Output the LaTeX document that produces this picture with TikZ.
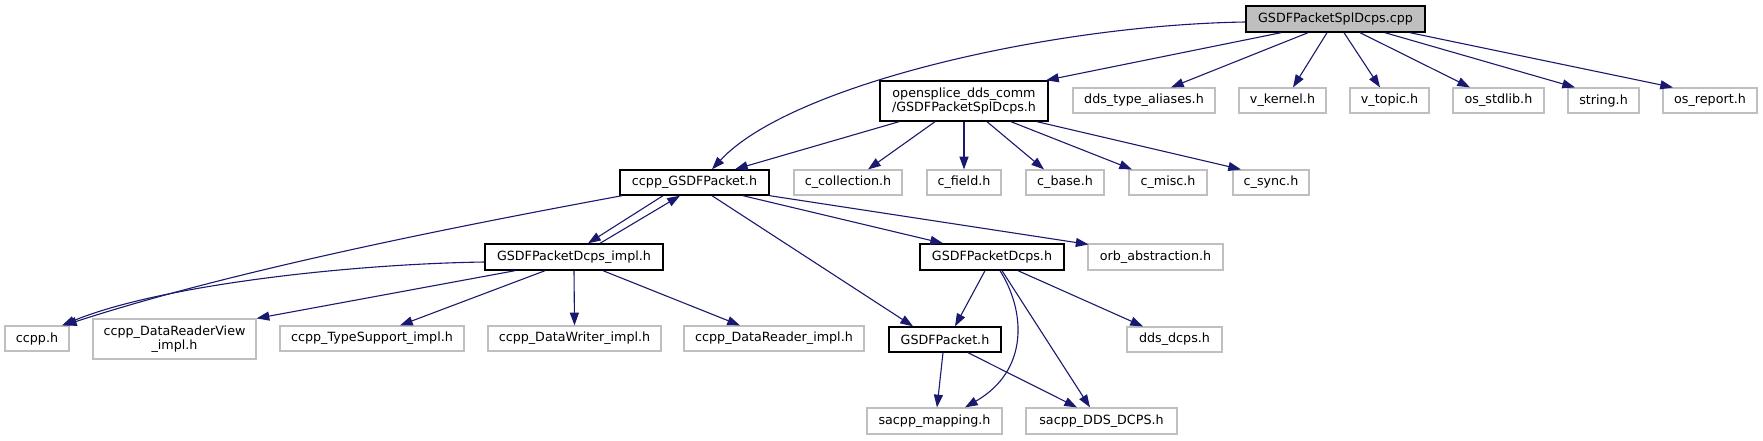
\documentclass[tikz,border=0pt]{standalone}
\usepackage{fontspec}
\setmainfont{DejaVu Sans}
\usetikzlibrary{arrows.meta}
\definecolor{edgec}{HTML}{191970}
\definecolor{grayb}{HTML}{BFBFBF}
\tikzset{
  box/.style={draw, inner sep=0pt, align=center, anchor=center,
    font=\fontsize{12.7}{14.5}\selectfont},
  dbox/.style={box, draw=black, line width=1.4pt},
  gbox/.style={box, draw=grayb, line width=1.2pt},
  edge/.style={draw=edgec, line width=1.1pt, -{Triangle[length=12.7pt,width=9pt]}},
}
\begin{document}
\begin{tikzpicture}[x=1pt,y=-1pt]
\fill[white] (0,0) rectangle (1763,440);
\useasboundingbox (0,0) rectangle (1763,440);
% row 0
\node[dbox, fill=grayb, minimum width=179pt, minimum height=26pt] (cpp) at (1335.5,19) {GSDFPacketSplDcps.cpp};
% row 1
\node[dbox, minimum width=168pt, minimum height=40pt] (ospl) at (964,101) {opensplice\_dds\_comm\\/GSDFPacketSplDcps.h};
\node[gbox, minimum width=142pt, minimum height=25pt] (dta) at (1144,100.5) {dds\_type\_aliases.h};
\node[gbox, minimum width=87pt, minimum height=25pt] (vk) at (1282.5,100.5) {v\_kernel.h};
\node[gbox, minimum width=79pt, minimum height=25pt] (vt) at (1389.5,100.5) {v\_topic.h};
\node[gbox, minimum width=91pt, minimum height=25pt] (osstd) at (1498.5,100.5) {os\_stdlib.h};
\node[gbox, minimum width=71pt, minimum height=25pt] (str) at (1603.5,100.5) {string.h};
\node[gbox, minimum width=94pt, minimum height=25pt] (osrep) at (1710,100.5) {os\_report.h};
% row 2
\node[dbox, minimum width=149pt, minimum height=25pt] (cgp) at (694.5,182.5) {ccpp\_GSDFPacket.h};
\node[gbox, minimum width=108pt, minimum height=25pt] (ccol) at (848,182.5) {c\_collection.h};
\node[gbox, minimum width=74pt, minimum height=25pt] (cfld) at (964,182.5) {c\_field.h};
\node[gbox, minimum width=78pt, minimum height=25pt] (cbase) at (1065,182.5) {c\_base.h};
\node[gbox, minimum width=78pt, minimum height=25pt] (cmisc) at (1168,182.5) {c\_misc.h};
\node[gbox, minimum width=76pt, minimum height=25pt] (csync) at (1271,182.5) {c\_sync.h};
% row 3
\node[dbox, minimum width=178pt, minimum height=26pt] (impl) at (574,257) {GSDFPacketDcps\_impl.h};
\node[dbox, minimum width=144pt, minimum height=26pt] (dcps) at (992,257) {GSDFPacketDcps.h};
\node[gbox, minimum width=135pt, minimum height=26pt] (orb) at (1155.5,257) {orb\_abstraction.h};
% row 4
\node[gbox, minimum width=64pt, minimum height=25pt] (ccpp) at (37,338.5) {ccpp.h};
\node[gbox, minimum width=163pt, minimum height=40pt] (drv) at (174.5,339) {ccpp\_DataReaderView\\\_impl.h};
\node[gbox, minimum width=184pt, minimum height=25pt] (ts) at (372,338.5) {ccpp\_TypeSupport\_impl.h};
\node[gbox, minimum width=173pt, minimum height=25pt] (dw) at (574.5,338.5) {ccpp\_DataWriter\_impl.h};
\node[gbox, minimum width=180pt, minimum height=25pt] (dr) at (774,338.5) {ccpp\_DataReader\_impl.h};
\node[dbox, minimum width=112pt, minimum height=25pt] (gp) at (945,339.5) {GSDFPacket.h};
\node[gbox, minimum width=95pt, minimum height=25pt] (ddsd) at (1174.5,339.5) {dds\_dcps.h};
% row 5
\node[gbox, minimum width=135pt, minimum height=26pt] (sm) at (934.5,421) {sacpp\_mapping.h};
\node[gbox, minimum width=151pt, minimum height=26pt] (sdd) at (1101.5,421) {sacpp\_DDS\_DCPS.h};

% edges from cpp
\draw[edge] ([yshift=-3pt]cpp.west) .. controls (1050,25) and (790,85) .. ([xshift=17.5pt]cgp.north);
\draw[edge] ([xshift=-54.5pt]cpp.south) -- ([xshift=82pt]ospl.north);
\draw[edge] ([xshift=-27.5pt]cpp.south) -- ([xshift=27pt]dta.north);
\draw[edge] ([xshift=-8.5pt]cpp.south) -- ([xshift=10.5pt]vk.north);
\draw[edge] ([xshift=8.5pt]cpp.south) -- ([xshift=-9.5pt]vt.north);
\draw[edge] ([xshift=24.5pt]cpp.south) -- ([xshift=-28.5pt]osstd.north);
\draw[edge] ([xshift=49.5pt]cpp.south) -- ([xshift=-28.5pt]str.north);
\draw[edge] ([xshift=74.5pt]cpp.south) -- ([xshift=-37pt]osrep.north);
% edges from ospl
\draw[edge] ([xshift=-65pt]ospl.south) -- ([xshift=40.5pt]cgp.north);
\draw[edge] ([xshift=-29pt]ospl.south) -- ([xshift=20pt]ccol.north);
\draw[edge] (ospl.south) -- (cfld.north);
\draw[edge] ([xshift=23pt]ospl.south) -- ([xshift=-21pt]cbase.north);
\draw[edge] ([xshift=47pt]ospl.south) -- ([xshift=-36pt]cmisc.north);
\draw[edge] ([xshift=73pt]ospl.south) -- ([xshift=-30pt]csync.north);
% edges from cgp
\draw[edge] ([xshift=-72.5pt]cgp.south) .. controls (480,222) and (240,268) .. ([xshift=27pt]ccpp.north);
\draw[edge] ([xshift=-31.5pt]cgp.south) -- ([xshift=14pt]impl.north);
\draw[edge] ([xshift=26pt]impl.north) -- ([xshift=-14.5pt]cgp.south);
\draw[edge] ([xshift=17.5pt]cgp.south) -- ([xshift=-32pt]gp.north);
\draw[edge] ([xshift=48.5pt]cgp.south) -- ([xshift=-49pt]dcps.north);
\draw[edge] (cgp.south east) -- ([xshift=-67pt,yshift=-1pt]orb.north);
% edges from impl
\draw[edge] ([yshift=-5pt]impl.west) .. controls (350,264) and (160,285) .. ([xshift=25pt]ccpp.north);
\draw[edge] ([xshift=-59pt]impl.south) -- (drv.north east);
\draw[edge] ([xshift=-29pt]impl.south) -- ([xshift=28pt]ts.north);
\draw[edge] (impl.south) -- (dw.north);
\draw[edge] ([xshift=29pt]impl.south) -- ([xshift=-34pt]dr.north);
% edges from dcps
\draw[edge] ([xshift=-7pt]dcps.south) -- ([xshift=10pt]gp.north);
\draw[edge] ([xshift=8pt]dcps.south) .. controls (1025,310) and (1030,370) .. ([xshift=30.5pt]sm.north);
\draw[edge] ([xshift=10pt]dcps.south) -- ([xshift=-11.5pt]sdd.north);
\draw[edge] ([xshift=26pt]dcps.south) -- ([xshift=-31.5pt]ddsd.north);
% edges from gp
\draw[edge] ([xshift=-2pt]gp.south) -- ([xshift=2.5pt]sm.north);
\draw[edge] ([xshift=23pt]gp.south) -- ([xshift=-24.5pt]sdd.north);
\end{tikzpicture}
\end{document}
